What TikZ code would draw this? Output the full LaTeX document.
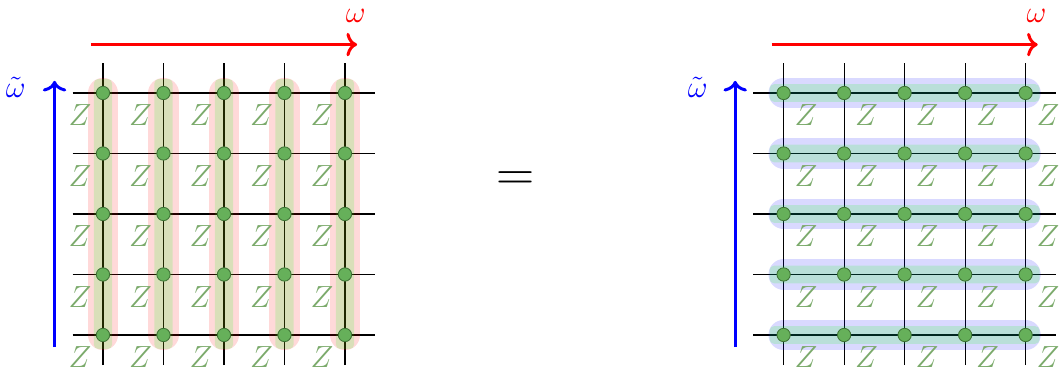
\documentclass[tikz,border=0pt]{standalone}
\usepackage{amsmath}
\usepackage{xcolor}
\usepackage{tikz}
\usetikzlibrary{arrows.meta, positioning}
\definecolor{sitefill}{HTML}{66B05A}
\definecolor{sitedraw}{HTML}{3F7436}
\definecolor{zcol}{HTML}{7BAA6B}
\tikzset{
  site/.style={circle, fill=sitefill, draw=sitedraw, line width=0.4pt,
               minimum size=0.22cm, inner sep=0pt},
  zlbl/.style={text=zcol, font=\Large, inner sep=0pt},
  dirlbl/.style={font=\Large, inner sep=0pt},
  bond/.style={line width=0.5pt, draw=black},
  hlout/.style={line width=0.5cm, line cap=round, draw opacity=0.15},
  hlin/.style={fill=green, fill opacity=0.15, rounded corners=2pt},
  axis/.style={-{Computer Modern Rightarrow[length=5pt, width=11pt]}, line width=1.4pt},
}

\begin{document}
\begin{tikzpicture}
  \useasboundingbox (-1.702,-0.661) rectangle (15.835,5.537);
  % lattice sites, left (L) and right (R)
  \foreach \i in {0,...,4} {
    \foreach \j in {0,...,4} {
      \coordinate (L-\i-\j) at (\i,\j);
      \coordinate (R-\i-\j) at (11.25+\i,\j);
    }
  }
  % bonds
  \foreach \k in {0,...,4} {
    \draw[bond] ([xshift=-0.5cm]L-0-\k) -- ([xshift=0.5cm]L-4-\k);
    \draw[bond] ([yshift=-0.5cm]L-\k-0) -- ([yshift=0.5cm]L-\k-4);
    \draw[bond] ([xshift=-0.5cm]R-0-\k) -- ([xshift=0.5cm]R-4-\k);
    \draw[bond] ([yshift=-0.5cm]R-\k-0) -- ([yshift=0.5cm]R-\k-4);
  }
  % columns on the left, rows on the right
  \foreach \k in {0,...,4} {
    \draw[hlout, red] (L-\k-0) -- (L-\k-4);
    \fill[hlin] ([xshift=-0.15cm, yshift=-0.23cm]L-\k-0) rectangle ([xshift=0.15cm, yshift=0.23cm]L-\k-4);
    \draw[hlout, blue] (R-0-\k) -- (R-4-\k);
    \fill[hlin] ([xshift=-0.23cm, yshift=-0.145cm]R-0-\k) rectangle ([xshift=0.23cm, yshift=0.145cm]R-4-\k);
  }
  \foreach \i in {0,...,4} {
    \foreach \j in {0,...,4} {
      \node[site] (sL-\i-\j) at (L-\i-\j) {};
      \node[site] (sR-\i-\j) at (R-\i-\j) {};
      \node[zlbl] (zL-\i-\j) at ([xshift=-0.38cm, yshift=-0.37cm]L-\i-\j) {$Z$};
      \node[zlbl] (zR-\i-\j) at ([xshift=0.37cm, yshift=-0.37cm]R-\i-\j) {$Z$};
    }
  }
  % directions
  \coordinate (Lw0) at (-0.2,4.8);   \coordinate (Lw1) at (4.2,4.8);
  \coordinate (Lv0) at (-0.8,-0.2);  \coordinate (Lv1) at (-0.8,4.2);
  \coordinate (Rw0) at (11.05,4.8);  \coordinate (Rw1) at (15.45,4.8);
  \coordinate (Rv0) at (10.45,-0.2); \coordinate (Rv1) at (10.45,4.2);
  \draw[axis, red] (Lw0) -- (Lw1);
  \draw[axis, blue] (Lv0) -- (Lv1);
  \draw[axis, red] (Rw0) -- (Rw1);
  \draw[axis, blue] (Rv0) -- (Rv1);
  \node[dirlbl, text=red] (wL) at (4.18,5.28) {$\omega$};
  \node[dirlbl, text=blue] (vL) at (-1.44,4.1) {$\tilde{\omega}$};
  \node[dirlbl, text=red] (wR) at (15.43,5.28) {$\omega$};
  \node[dirlbl, text=blue] (vR) at (9.83,4.1) {$\tilde{\omega}$};
  \node[font=\Huge] (eq) at (6.82,2.55) {$=$};
\end{tikzpicture}
\end{document}
